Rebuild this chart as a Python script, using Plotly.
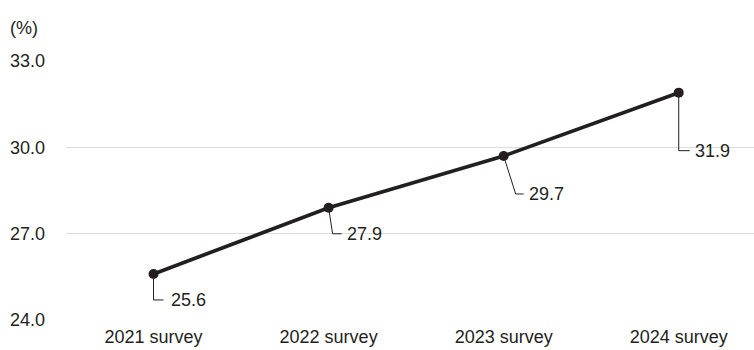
import plotly.graph_objects as go

categories = ["2021 survey", "2022 survey", "2023 survey", "2024 survey"]
values = [25.6, 27.9, 29.7, 31.9]
y_ticks = [24.0, 27.0, 30.0, 33.0]
y_tick_labels = ["24.0", "27.0", "30.0", "33.0"]

# leader-line geometry in pixels (elbow dx, drop dy, end dx, text dx)
leaders = [(0, 26, 10, 15), (4, 26, 13, 16), (12, 38, 20, 23), (0, 58, 11, 14)]

W, H = 754, 350
ML, MR, MT, MB = 66, 0, 61, 30
Y0, Y1 = 24, 33
X0, X1 = -0.5, 3.43
px_y = (H - MT - MB) / (Y1 - Y0)
px_x = (W - ML - MR) / (X1 - X0)

ink = "#231f20"
font = "Liberation Sans, Arial, sans-serif"

fig = go.Figure()

for i, (v, (ex, dy, endx, tx)) in enumerate(zip(values, leaders)):
    fig.add_trace(go.Scatter(
        x=[i, i + ex / px_x, i + endx / px_x],
        y=[v, v - dy / px_y, v - dy / px_y],
        mode="lines", line=dict(color=ink, width=1),
        hoverinfo="skip", showlegend=False, cliponaxis=False,
    ))
    fig.add_annotation(
        x=i, y=v - dy / px_y, text=f"{v:.1f}", showarrow=False,
        xanchor="left", yanchor="middle", xshift=tx,
        font=dict(family=font, size=18, color=ink),
    )

fig.add_trace(go.Scatter(
    x=list(range(len(categories))), y=values, mode="lines+markers",
    line=dict(color=ink, width=3.7),
    marker=dict(color=ink, size=10),
    showlegend=False, cliponaxis=False,
))

fig.add_annotation(
    x=0, y=1, xref="paper", yref="paper", xshift=-ML + 8, yshift=33,
    text="(%)", showarrow=False, xanchor="left", yanchor="middle",
    font=dict(family=font, size=18, color=ink),
)

fig.update_layout(
    width=W, height=H,
    margin=dict(l=ML, r=MR, t=MT, b=MB),
    paper_bgcolor="white", plot_bgcolor="white",
    font=dict(family=font, size=18, color=ink),
    xaxis=dict(
        range=[X0, X1], tickmode="array",
        tickvals=list(range(len(categories))), ticktext=categories,
        showgrid=False, zeroline=False, showline=False,
        ticks="", ticklabelstandoff=4,
        tickfont=dict(family=font, size=18, color=ink),
    ),
    yaxis=dict(
        range=[Y0, Y1], tickmode="array", tickvals=y_ticks, ticktext=y_tick_labels,
        showgrid=True, gridcolor="#dcdcdc", gridwidth=1,
        zeroline=False, showline=False, ticks="", ticklabelstandoff=20,
        tickfont=dict(family=font, size=18, color=ink),
    ),
)

fig.write_html("out.html")
